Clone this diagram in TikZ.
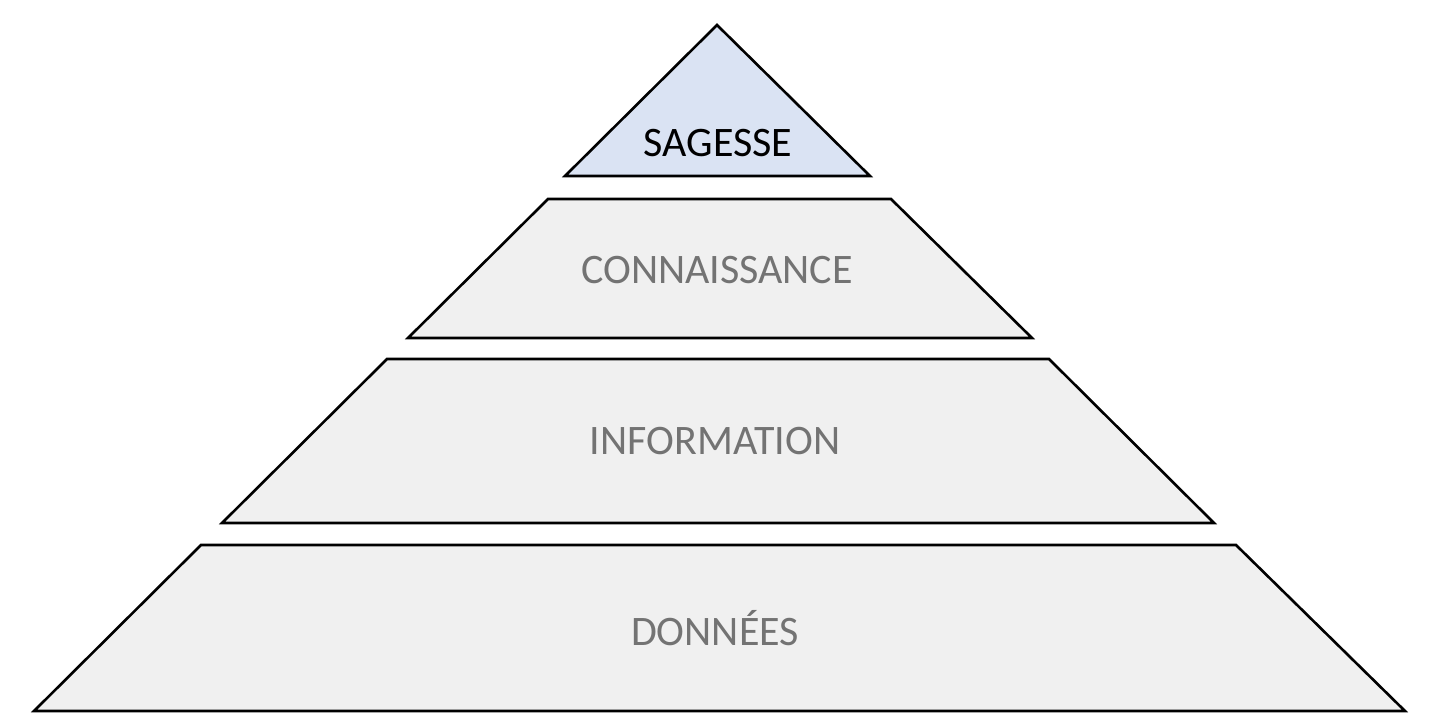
\documentclass[tikz,border=0pt]{standalone}
\usepackage{fontspec}
\setmainfont{Carlito}
\begin{document}
\begin{tikzpicture}[x=0.5pt,y=-0.5pt,
  layer/.style={draw=black,line width=1.3pt,fill=gray!12,line join=miter},
  lbl/.style={font=\fontsize{21}{24}\selectfont,text=gray!90!black}]
\useasboundingbox[fill=white] (0,0) rectangle (1443,720);
\draw[layer,fill={rgb,255:red,218;green,227;blue,243}] (717,25) -- (870,176) -- (565,176) -- cycle;
\draw[layer] (548,199) -- (891,199) -- (1032,338) -- (408,338) -- cycle;
\draw[layer] (387,359) -- (1049,359) -- (1214,523) -- (222,523) -- cycle;
\draw[layer] (201,545) -- (1236,545) -- (1405,711) -- (34,711) -- cycle;
\node[lbl,text=black] (s) at (718,143) {SAGESSE};
\node[lbl] (c) at (717,270) {CONNAISSANCE};
\node[lbl] (i) at (715,441) {INFORMATION};
\node[lbl] (d) at (715,628) {DONNÉES};
\end{tikzpicture}
\end{document}
